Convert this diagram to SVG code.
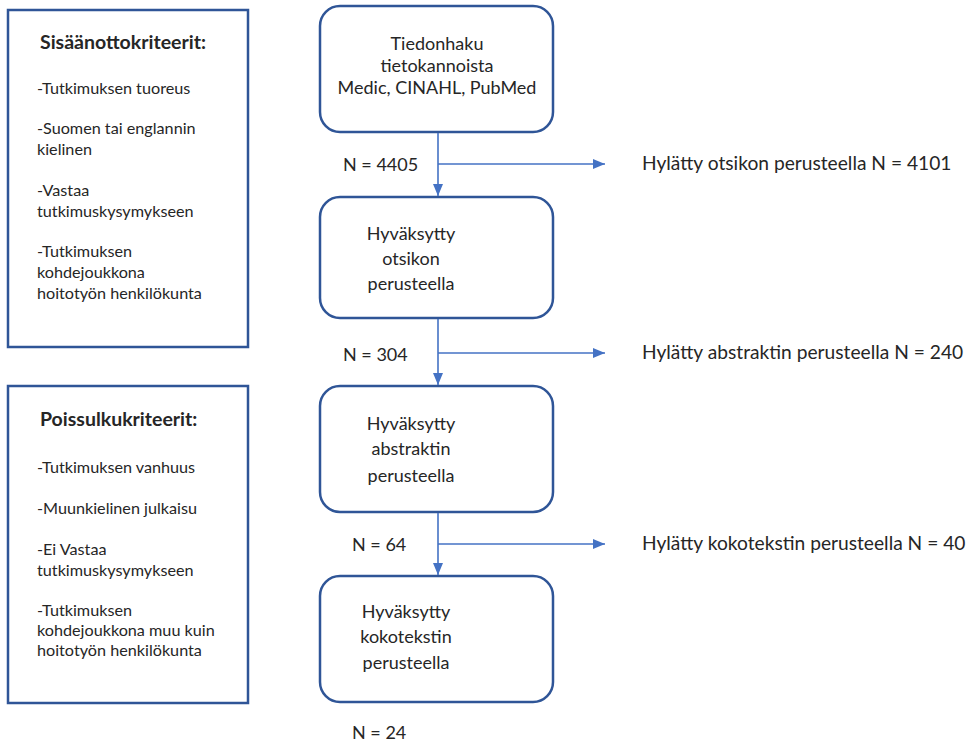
<svg xmlns="http://www.w3.org/2000/svg" width="974" height="744" viewBox="0 0 974 744">
<style>
text{font-family:Lato,"Liberation Sans",sans-serif;fill:#262626}
.crit{fill:#fff;stroke:#2F5597;stroke-width:2.5}
.step{fill:#fff;stroke:#2F5597;stroke-width:2.5}
.t{font-size:16.2px}
.h{font-size:19.5px;font-weight:bold}
.b{font-size:18px;text-anchor:middle}
.n{font-size:18px}
.r{font-size:19.2px}
.c{fill:none;stroke:#4472C4;stroke-width:1.6}
</style>
<defs>
<marker id="ah" markerWidth="12" markerHeight="10" refX="12" refY="5" orient="auto" markerUnits="userSpaceOnUse">
<path d="M0,0 L12,5 L0,10 Z" fill="#4472C4"/>
</marker>
</defs>
<g id="inclusion">
<rect class="crit" x="8" y="10" width="240" height="337"/>
<text class="h" x="40" y="49">Sisäänottokriteerit:</text>
<text class="t" x="37" y="94">-Tutkimuksen tuoreus</text>
<text class="t" x="37" y="134">-Suomen tai englannin</text>
<text class="t" x="37" y="155">kielinen</text>
<text class="t" x="37" y="196">-Vastaa</text>
<text class="t" x="37" y="217">tutkimuskysymykseen</text>
<text class="t" x="37" y="257">-Tutkimuksen</text>
<text class="t" x="37" y="278">kohdejoukkona</text>
<text class="t" x="37" y="299">hoitotyön henkilökunta</text>
</g>
<g id="exclusion">
<rect class="crit" x="8" y="386" width="240" height="317"/>
<text class="h" x="40" y="426">Poissulkukriteerit:</text>
<text class="t" x="37" y="473">-Tutkimuksen vanhuus</text>
<text class="t" x="37" y="514">-Muunkielinen julkaisu</text>
<text class="t" x="37" y="555">-Ei Vastaa</text>
<text class="t" x="37" y="576">tutkimuskysymykseen</text>
<text class="t" x="37" y="616">-Tutkimuksen</text>
<text class="t" x="37" y="636">kohdejoukkona muu kuin</text>
<text class="t" x="37" y="656">hoitotyön henkilökunta</text>
</g>
<g id="search">
<rect class="step" x="320" y="6" width="233" height="126" rx="20"/>
<text class="b" x="437" y="50">Tiedonhaku</text>
<text class="b" x="437" y="72">tietokannoista</text>
<text class="b" x="437" y="94">Medic, CINAHL, PubMed</text>
</g>
<g id="title-accepted">
<rect class="step" x="320" y="197" width="233" height="121" rx="20"/>
<text class="b" x="411" y="240">Hyväksytty</text>
<text class="b" x="411" y="265">otsikon</text>
<text class="b" x="411" y="290">perusteella</text>
</g>
<g id="abstract-accepted">
<rect class="step" x="320" y="386" width="233" height="126" rx="20"/>
<text class="b" x="411" y="430">Hyväksytty</text>
<text class="b" x="411" y="455">abstraktin</text>
<text class="b" x="411" y="482">perusteella</text>
</g>
<g id="fulltext-accepted">
<rect class="step" x="320" y="576" width="233" height="126" rx="20"/>
<text class="b" x="406" y="618">Hyväksytty</text>
<text class="b" x="406" y="643">kokotekstin</text>
<text class="b" x="406" y="669">perusteella</text>
</g>
<g id="rejected-title"><text class="r" x="642" y="170">Hylätty otsikon perusteella N = 4101</text></g>
<g id="rejected-abstract"><text class="r" x="642" y="359">Hylätty abstraktin perusteella N = 240</text></g>
<g id="rejected-fulltext"><text class="r" x="642" y="550">Hylätty kokotekstin perusteella N = 40</text></g>
<g id="counts">
<text class="n" x="343" y="171">N = 4405</text>
<text class="n" x="343" y="361">N = 304</text>
<text class="n" x="352" y="551">N = 64</text>
<text class="n" x="352" y="739">N = 24</text>
</g>
<g id="connectors">
<line class="c" x1="438" y1="133" x2="438" y2="196" marker-end="url(#ah)"/>
<line class="c" x1="438" y1="164" x2="605" y2="164" marker-end="url(#ah)"/>
<line class="c" x1="438" y1="319" x2="438" y2="385" marker-end="url(#ah)"/>
<line class="c" x1="438" y1="353" x2="605" y2="353" marker-end="url(#ah)"/>
<line class="c" x1="438" y1="513" x2="438" y2="575" marker-end="url(#ah)"/>
<line class="c" x1="438" y1="544" x2="605" y2="544" marker-end="url(#ah)"/>
</g>
</svg>
